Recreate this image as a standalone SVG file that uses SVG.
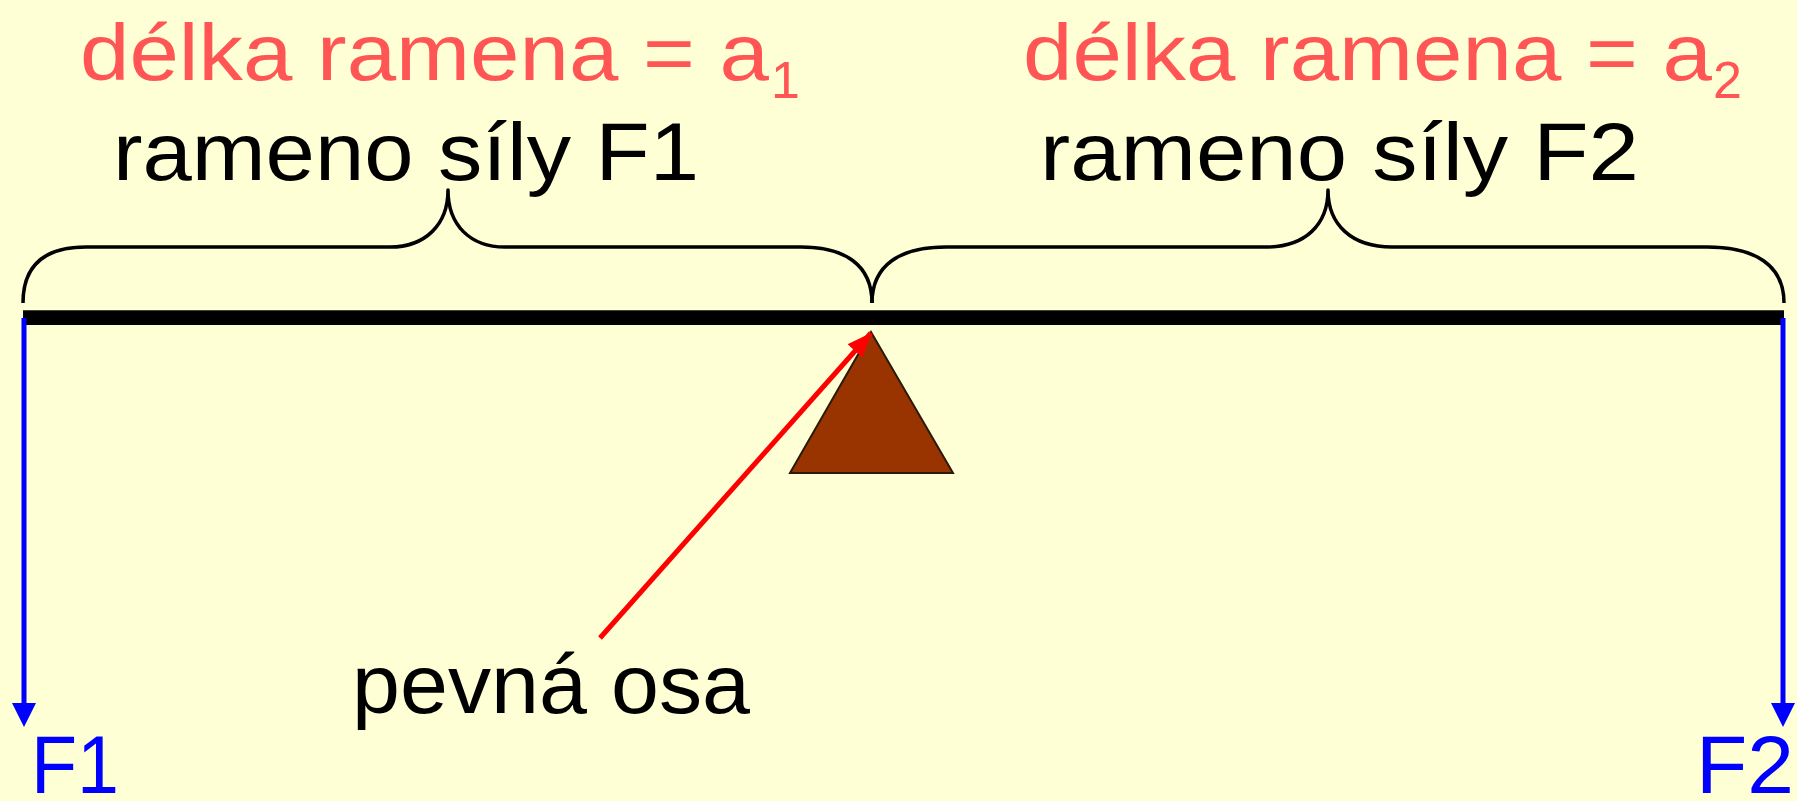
<svg xmlns="http://www.w3.org/2000/svg" width="1797" height="801" viewBox="0 0 1797 801">
<style>
.lbl{font-family:"Liberation Sans",Arial,sans-serif;}
.red{fill:#ff5555;font-size:80px;}
.blk{fill:#000;font-size:82px;}
.blue{fill:#0000ff;font-size:82px;}
.brace{fill:none;stroke:#000;stroke-width:3.5;stroke-linejoin:round;}
.force{stroke:#0000ff;stroke-width:5;fill:none;}
</style>
<defs>
<marker id="bh" markerUnits="userSpaceOnUse" markerWidth="24" markerHeight="24" refX="0" refY="12" orient="auto" viewBox="0 0 24 24">
<path d="M0,0 L24,12 L0,24 z" fill="#0000ff"/>
</marker>
<marker id="rh" markerUnits="userSpaceOnUse" markerWidth="24" markerHeight="20" refX="24" refY="10" orient="auto" viewBox="0 0 24 20">
<path d="M0,0 L24,10 L0,20 z" fill="#ff0000"/>
</marker>
</defs>
<rect width="1797" height="801" fill="#ffffd6"/>

<g id="labels-top">
<text class="lbl red" x="80" y="80" textLength="689" lengthAdjust="spacingAndGlyphs">délka ramena = a</text>
<text class="lbl red" x="771" y="98" style="font-size:52px">1</text>
<text class="lbl red" x="1023" y="80" textLength="689" lengthAdjust="spacingAndGlyphs">délka ramena = a</text>
<text class="lbl red" x="1713" y="98" style="font-size:52px">2</text>
<text class="lbl blk" x="113" y="180" textLength="586" lengthAdjust="spacingAndGlyphs">rameno síly F1</text>
<text class="lbl blk" x="1040" y="180" textLength="599" lengthAdjust="spacingAndGlyphs">rameno síly F2</text>
</g>

<g id="braces">
<path class="brace" d="M23,303 C23,265 45,247 86,247 L390,247 C425,247 448,225 448,190 C448,225 470,247 505,247 L801,247 C845,247 872,265 872,303"/>
<path class="brace" d="M872,303 C872,265 900,247 946,247 L1266,247 C1305,247 1328,225 1328,190 C1328,225 1352,247 1392,247 L1707,247 C1755,247 1784,265 1784,303"/>
</g>

<g id="beam">
<rect x="23" y="310" width="1761" height="15" fill="#000"/>
<line x1="23" y1="310.5" x2="1784" y2="310.5" stroke="#44443a" stroke-width="1"/>
</g>

<g id="fulcrum">
<polygon points="871,332 790,473 953,473" fill="#993300" stroke="#2a1a0a" stroke-width="2"/>
</g>

<g id="connectors">
<line class="force" x1="24" y1="318" x2="24" y2="703" marker-end="url(#bh)"/>
<line class="force" x1="1783" y1="318" x2="1783" y2="703" marker-end="url(#bh)"/>
<line x1="600" y1="638" x2="871" y2="333" stroke="#ff0000" stroke-width="5" marker-end="url(#rh)"/>
</g>

<g id="labels-bottom">
<text class="lbl blk" x="352" y="713" textLength="398" lengthAdjust="spacingAndGlyphs" style="font-size:83px">pevná osa</text>
<text class="lbl blue" x="31" y="793" textLength="88" lengthAdjust="spacingAndGlyphs">F1</text>
<text class="lbl blue" x="1696" y="793" textLength="98" lengthAdjust="spacingAndGlyphs">F2</text>
</g>
</svg>
